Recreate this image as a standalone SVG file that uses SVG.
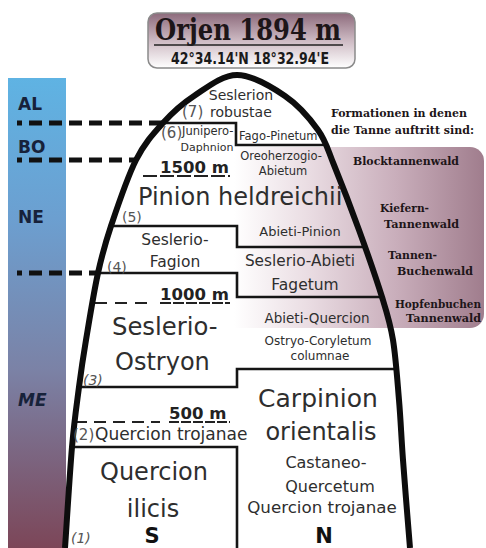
<svg xmlns="http://www.w3.org/2000/svg" width="486" height="548" viewBox="0 0 486 548">
<defs>
<linearGradient id="gTitle" x1="0" y1="0" x2="0" y2="1">
<stop offset="0" stop-color="#8d6b7c"/><stop offset="0.5" stop-color="#cdbac3"/><stop offset="1" stop-color="#ffffff"/>
</linearGradient>
<linearGradient id="gBar" x1="0" y1="0" x2="0" y2="1">
<stop offset="0" stop-color="#5fb3e3"/><stop offset="0.3" stop-color="#6c9fd0"/><stop offset="0.62" stop-color="#7b82a6"/><stop offset="1" stop-color="#7c4658"/>
</linearGradient>
<linearGradient id="gPink" gradientUnits="userSpaceOnUse" x1="190" y1="0" x2="484" y2="0">
<stop offset="0" stop-color="#ffffff" stop-opacity="0"/>
<stop offset="0.15" stop-color="#ffffff"/>
<stop offset="0.4" stop-color="#eadde3"/>
<stop offset="0.7" stop-color="#c9aebb"/>
<stop offset="1" stop-color="#a07d8d"/>
</linearGradient>
<clipPath id="domeClip"><path d="M65,548 C66.2,531.2 69.7,473.8 72,447 C74.3,420.2 76.7,404.8 79,387 C81.3,369.2 82.8,359 86,340 C89.2,321 93.8,292 98,273 C102.2,254 104.7,244.8 111,226 C117.3,207.2 127.3,177.2 136,160 C144.7,142.8 153.3,133.7 163,123 C172.7,112.3 181.7,104 194,96 C206.3,88 221.8,75 237,75 C252.2,75 271.5,86.8 285,96 C298.5,105.2 309.8,118.5 318,130 C326.2,141.5 327.2,148.3 334,165 C340.8,181.7 351,208 359,230 C367,252 376.3,278.7 382,297 C387.7,315.3 390.2,322.8 393,340 C395.8,357.2 397.3,380 399,400 C400.7,420 401.2,435.3 403,460 C404.8,484.7 408.8,533.3 410,548 L412,560 L63,560 Z"/></clipPath>
</defs>
<style>
.t{font-family:"DejaVu Sans",sans-serif;fill:#2e2e2e}
.n{font-family:"DejaVu Sans",sans-serif;fill:#555}
.h{font-family:"DejaVu Serif",serif;font-weight:bold;fill:#1d1518}
.z{font-family:"DejaVu Sans",sans-serif;font-weight:bold;fill:#17223a;font-size:17px}
.m{font-family:"DejaVu Sans",sans-serif;font-weight:bold;fill:#222;font-size:16.5px}
.thick{stroke:#111;stroke-width:5;stroke-dasharray:13 7;stroke-dashoffset:8;fill:none}
.thin{stroke:#151515;stroke-width:2.6;fill:none}
.dash{stroke:#222;stroke-width:1.8;fill:none}
.mid{text-anchor:middle}
</style>

<g id="pink-box">
<rect x="190" y="147" width="294" height="181" rx="14" fill="url(#gPink)"/>
</g>

<g id="title">
<rect x="148" y="13" width="207" height="55" rx="9" fill="url(#gTitle)" stroke="#8a8a8a" stroke-width="1.5"/>
<text x="248" y="40" class="h mid" font-size="30" textLength="186" lengthAdjust="spacingAndGlyphs">Orjen 1894 m</text>
<line x1="154" y1="45" x2="343" y2="45" stroke="#222" stroke-width="1.5"/>
<text x="250" y="64" class="mid" font-family="DejaVu Sans, sans-serif" font-weight="bold" fill="#1a1a1a" font-size="15.5" textLength="158" lengthAdjust="spacingAndGlyphs">42°34.14'N  18°32.94'E</text>
</g>

<g id="zone-bar">
<rect x="8" y="78" width="58" height="470" fill="url(#gBar)"/>
<text x="18" y="110" class="z">AL</text>
<text x="18" y="153" class="z">BO</text>
<text x="18" y="223" class="z">NE</text>
<text x="18" y="406" class="z" font-style="italic">ME</text>
</g>

<g id="connectors">
<line x1="17" y1="123" x2="164" y2="123" class="thick"/>
<line x1="17" y1="160" x2="137" y2="160" class="thick"/>
<line x1="17" y1="273" x2="99" y2="273" class="thick"/>
<g clip-path="url(#domeClip)">
<path d="M0,123 H236 V145 H486" class="thin"/>
<path d="M0,226 H237 V247 H486" class="thin"/>
<path d="M0,273 H237 V297 H486" class="thin"/>
<path d="M0,387 H237 V369 H486" class="thin"/>
<path d="M0,447 H237 V560" class="thin"/>
</g>
<line x1="143" y1="176" x2="230" y2="176" class="dash" stroke-dasharray="14 3"/>
<line x1="95" y1="303" x2="152" y2="303" class="dash" stroke-dasharray="12 8"/>
<line x1="160" y1="303" x2="230" y2="303" class="dash" stroke-dasharray="11 2"/>
<line x1="75" y1="422" x2="160" y2="422" class="dash" stroke-dasharray="12 7"/>
<line x1="169" y1="422" x2="230" y2="422" class="dash" stroke-dasharray="10 2"/>
</g>

<g id="dome">
<path d="M65,548 C66.2,531.2 69.7,473.8 72,447 C74.3,420.2 76.7,404.8 79,387 C81.3,369.2 82.8,359 86,340 C89.2,321 93.8,292 98,273 C102.2,254 104.7,244.8 111,226 C117.3,207.2 127.3,177.2 136,160 C144.7,142.8 153.3,133.7 163,123 C172.7,112.3 181.7,104 194,96 C206.3,88 221.8,75 237,75 C252.2,75 271.5,86.8 285,96 C298.5,105.2 309.8,118.5 318,130 C326.2,141.5 327.2,148.3 334,165 C340.8,181.7 351,208 359,230 C367,252 376.3,278.7 382,297 C387.7,315.3 390.2,322.8 393,340 C395.8,357.2 397.3,380 399,400 C400.7,420 401.2,435.3 403,460 C404.8,484.7 408.8,533.3 410,548" fill="none" stroke="#0d0d0d" stroke-width="6"/>
</g>

<g id="zone-7">
<text x="241" y="100" class="t mid" font-size="14">Seslerion</text>
<text x="182" y="117" class="n" font-size="15">(7)</text>
<text x="210" y="117" class="t" font-size="14">robustae</text>
</g>
<g id="zone-6">
<text x="161" y="138" class="n" font-size="15">(6)</text>
<text x="182" y="135" class="t" font-size="11.5">Junipero-</text>
<text x="207" y="151" class="t mid" font-size="11">Daphnion</text>
<text x="239" y="140" class="t" font-size="11.5">Fago-Pinetum</text>
<text x="281" y="160" class="t mid" font-size="11.5">Oreoherzogio-</text>
<text x="283" y="175" class="t mid" font-size="11.5">Abietum</text>
<text x="160" y="173" class="m">1500 m</text>
</g>
<g id="zone-5">
<text x="138" y="205" class="t" font-size="24">Pinion heldreichii</text>
<text x="122" y="222" class="n" font-size="14">(5)</text>
<text x="300" y="236" class="t mid" font-size="13">Abieti-Pinion</text>
</g>
<g id="zone-4">
<text x="175" y="245" class="t mid" font-size="15.5">Seslerio-</text>
<text x="175" y="267" class="t mid" font-size="15.5">Fagion</text>
<text x="107" y="272" class="n" font-size="14">(4)</text>
<text x="300" y="266" class="t mid" font-size="15.3">Seslerio-Abieti</text>
<text x="305" y="290" class="t mid" font-size="15.5">Fagetum</text>
<text x="160" y="300" class="m">1000 m</text>
</g>
<g id="zone-3">
<text x="112" y="335" class="t" font-size="24.3">Seslerio-</text>
<text x="115" y="370" class="t" font-size="24">Ostryon</text>
<text x="83" y="385" class="n" font-size="14" font-style="italic">(3)</text>
<text x="317" y="323" class="t mid" font-size="13.5">Abieti-Quercion</text>
<text x="318" y="345" class="t mid" font-size="12">Ostryo-Coryletum</text>
<text x="320" y="360" class="t mid" font-size="12">columnae</text>
</g>
<g id="zone-2">
<text x="169" y="419" class="m" font-size="15.5">500 m</text>
<text x="73" y="440" class="n" font-size="15">(2)</text>
<text x="95" y="440" class="t" font-size="17">Quercion trojanae</text>
<text x="318" y="407" class="t mid" font-size="25">Carpinion</text>
<text x="321" y="440" class="t mid" font-size="24">orientalis</text>
</g>
<g id="zone-1">
<text x="154" y="480" class="t mid" font-size="24">Quercion</text>
<text x="153" y="517" class="t mid" font-size="24">ilicis</text>
<text x="152" y="543" class="mid" font-family="DejaVu Sans, sans-serif" font-weight="bold" fill="#111" font-size="21">S</text>
<text x="71" y="543" class="n" font-size="14" font-style="italic">(1)</text>
<text x="326" y="468" class="t mid" font-size="16">Castaneo-</text>
<text x="330" y="492" class="t mid" font-size="16">Quercetum</text>
<text x="322" y="513" class="t mid" font-size="16.7">Quercion trojanae</text>
<text x="324" y="543" class="mid" font-family="DejaVu Sans, sans-serif" font-weight="bold" fill="#111" font-size="21">N</text>
</g>

<g id="formations">
<text x="331" y="117" class="h" font-size="11" textLength="136" lengthAdjust="spacingAndGlyphs">Formationen in denen</text>
<text x="331" y="134" class="h" font-size="11" textLength="143" lengthAdjust="spacingAndGlyphs">die Tanne auftritt sind:</text>
<text x="353" y="165" class="h" font-size="11" textLength="106" lengthAdjust="spacingAndGlyphs">Blocktannenwald</text>
<text x="380" y="212" class="h" font-size="11" textLength="49" lengthAdjust="spacingAndGlyphs">Kiefern-</text>
<text x="384" y="228" class="h" font-size="11" textLength="75" lengthAdjust="spacingAndGlyphs">Tannenwald</text>
<text x="388" y="259" class="h" font-size="11" textLength="49" lengthAdjust="spacingAndGlyphs">Tannen-</text>
<text x="397" y="275" class="h" font-size="11" textLength="76" lengthAdjust="spacingAndGlyphs">Buchenwald</text>
<text x="395" y="308" class="h" font-size="10.5" textLength="86" lengthAdjust="spacingAndGlyphs">Hopfenbuchen</text>
<text x="406" y="322" class="h" font-size="11" textLength="75" lengthAdjust="spacingAndGlyphs">Tannenwald</text>
</g>
</svg>
